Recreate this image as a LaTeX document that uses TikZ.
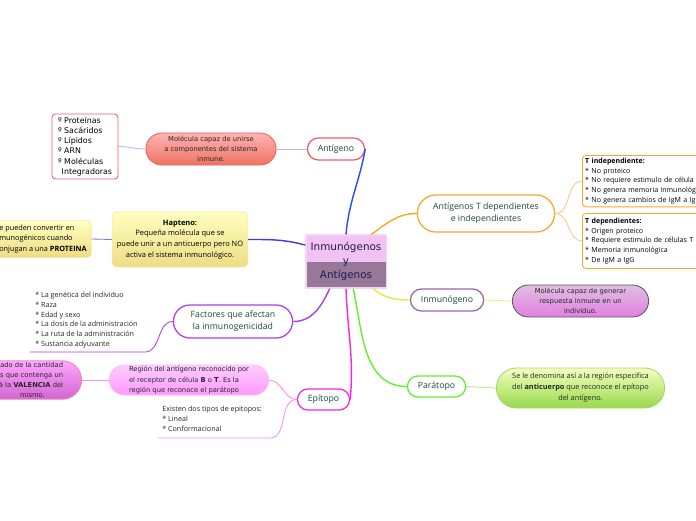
\documentclass[tikz,border=0pt]{standalone}
\usepackage{fontspec}
\setmainfont{DejaVu Sans}
\newfontfamily\opensans{Open Sans}
\usetikzlibrary{positioning,shapes.misc}

\definecolor{verdeosc}{HTML}{1E4A3C}
\definecolor{azulosc}{HTML}{1C1C52}
\definecolor{rosacentro}{HTML}{F2C2F2}
\definecolor{malva}{HTML}{987898}
\definecolor{rojoborde}{HTML}{EE6060}
\definecolor{azulrama}{HTML}{2848FF}
\definecolor{azulclaro}{HTML}{A8BCF4}
\definecolor{violetarama}{HTML}{5030E8}
\definecolor{moradorama}{HTML}{A840F0}
\definecolor{magentarama}{HTML}{F428E4}
\definecolor{rosaclaro}{HTML}{F690EC}
\definecolor{naranja}{HTML}{F8A828}
\definecolor{naranjaclaro}{HTML}{FAC880}
\definecolor{amarilloverde}{HTML}{D8F040}
\definecolor{verderama}{HTML}{60F030}
\definecolor{verdeclaro}{HTML}{A8F088}
\definecolor{violeta}{HTML}{9468AC}

\tikzset{
  rama/.style={rounded rectangle, draw, fill=white, line width=0.9pt, text=verdeosc,
    font=\opensans\fontsize{6.2}{8.5}\selectfont, align=center, inner sep=1pt},
  nota/.style={rounded rectangle, draw, line width=0.6pt, text=black!85,
    font=\fontsize{4.8}{7.2}\selectfont, align=center, inner sep=1pt},
  caja/.style={rectangle, rounded corners=2.5pt, draw, line width=0.6pt, fill=white,
    inner sep=2pt, align=left},
  listado/.style={font=\opensans\fontsize{5.1}{6.9}\selectfont, text=black!85,
    align=left, inner sep=0pt},
  conector/.style={line width=1pt},
  fino/.style={line width=0.6pt},
}

\begin{document}
\begin{tikzpicture}[x=0.025cm,y=-0.025cm]
\useasboundingbox (0,0) rectangle (696,520);

% nodo central
\node[rectangle, draw=rosacentro!70!white, fill=rosacentro, line width=0.8pt,
  minimum width=1.9cm, minimum height=1.325cm, text=azulosc, align=center,
  font=\fontsize{7.4}{10}\selectfont,
  path picture={\fill[malva] (path picture bounding box.west) rectangle (path picture bounding box.south east);}]
  (centro) at (346,261.5) {Inmunógenos\\y\\Antígenos};

% rama antigeno
\node[rama, draw=rojoborde, minimum width=1.5cm, minimum height=0.55cm] (antigeno) at (336,149) {Antígeno};
\node[nota, draw=rojoborde, top color=red!30!white, bottom color=red!55!brown!70!white,
  minimum width=3.325cm, minimum height=0.8cm] (molecula) at (211,149)
  {Molécula capaz de unirse\\a componentes del sistema\\inmune.};
\node[caja, draw=rojoborde, font=\fontsize{5.6}{7.3}\selectfont, minimum width=1.65cm,
  minimum height=1.625cm] (tipos) at (85,146.5)
  {º Proteínas\\º Sacáridos\\º Lípidos\\º ARN\\º Moléculas\\\phantom{º}Integradoras};

% rama hapteno
\node[rectangle, rounded corners=3pt, draw=yellow!60!brown!40!white, top color=yellow!25!white,
  bottom color=yellow!50!brown!55!white, minimum width=3.325cm, minimum height=1.375cm,
  align=center, font=\opensans\fontsize{5.3}{7.5}\selectfont] (hapteno) at (180,239.5)
  {\textbf{Hapteno:}\\Pequeña molécula que se\\puede unir a un anticuerpo pero NO\\activa el sistema inmunológico.};
\node[rectangle, rounded corners=3pt, draw=yellow!60!brown!40!white, top color=yellow!25!white,
  bottom color=yellow!50!brown!55!white, minimum width=2.3cm, minimum height=0.9cm,
  align=left, font=\opensans\fontsize{5.2}{7.2}\selectfont] (conjuga) at (43,239)
  {e pueden convertir en\\munogénicos cuando\\onjugan a una \textbf{PROTEINA}};

% rama factores
\node[rama, draw=moradorama, minimum width=3.05cm, minimum height=0.825cm] (factores) at (233,321.5)
  {Factores que afectan\\la inmunogenicidad};
\node[listado, anchor=north west] (listaF) at (35,292)
  {{*} La genética del individuo\\{*} Raza\\{*} Edad y sexo\\{*} La dosis de la administración\\{*} La ruta de la administración\\{*} Sustancia adyuvante};
\coordinate (finF) at (145,352);
\coordinate (iniF) at (30,352);

% rama epitopo
\node[rama, draw=magentarama, minimum width=1.375cm, minimum height=0.525cm] (epitopo) at (323.5,399.5) {Epítopo};
\node[nota, draw=rosaclaro!60!white, top color=magenta!20!white, bottom color=magenta!40!white,
  minimum width=4.05cm, minimum height=0.75cm, align=left] (region) at (189,380)
  {Región del antígeno reconocido por\\el receptor de célula \textbf{B} o \textbf{T}. Es la\\región que reconoce el parátopo};
\node[nota, draw=magenta!50!white, top color=magenta!35!white, bottom color=violet!60!magenta!60!white,
  minimum width=2.6cm, minimum height=0.9cm, align=right] (valencia) at (31,380)
  {ado de la cantidad\\s que contenga un\\á la \textbf{VALENCIA} del\\mismo.\hspace*{13pt}};
\node[listado, anchor=north west] (listaE) at (162,406)
  {Existen dos tipos de epitopos:\\{*} Lineal\\{*} Conformacional};
\coordinate (finE) at (270,438);
\coordinate (iniE) at (158,438);

% rama antigenos T
\node[rama, draw=naranja, minimum width=3.5cm, minimum height=0.925cm] (antT) at (486,213.5)
  {Antígenos T dependientes\\e independientes};
\node[caja, draw=naranja, anchor=north west, minimum height=1.25cm, text width=3.4cm,
  font=\opensans\fontsize{5.0}{6.9}\selectfont] (tindep) at (582,155)
  {\textbf{T independiente:}\\{*} No proteico\\{*} No requiere estimulo de célula\\{*} No genera memoria inmunológ\\{*} No genera cambios de IgM a Ig};
\node[caja, draw=naranja, anchor=north west, minimum height=1.375cm, text width=3.4cm,
  font=\opensans\fontsize{5.0}{6.9}\selectfont] (tdep) at (582,213)
  {\textbf{T dependientes:}\\{*} Origen proteico\\{*} Requiere estimulo de células T\\{*} Memoria inmunológica\\{*} De IgM a IgG};

% rama inmunogeno
\node[rama, draw=violeta, minimum width=1.9cm, minimum height=0.55cm] (inmunogeno) at (447,300) {Inmunógeno};
\node[nota, draw=black!65, top color=violet!25!white, bottom color=violet!45!magenta!50!white,
  minimum width=3.475cm, minimum height=0.8cm] (respuesta) at (580.5,301)
  {Molécula capaz de generar\\respuesta inmune en un\\individuo.};

% rama paratopo
\node[rama, draw=verderama, minimum width=1.525cm, minimum height=0.525cm] (paratopo) at (436.5,386.5) {Parátopo};
\node[nota, draw=verdeclaro!80!olive, top color=green!20!yellow!25!white, bottom color=olive!55!green!55!white,
  minimum width=4.275cm, minimum height=1cm, font=\opensans\fontsize{5.2}{7.8}\selectfont] (anticuerpo) at (580.5,388)
  {Se le denomina así a la región especifica\\del \textbf{anticuerpo} que reconoce el epítopo\\del antígeno.};

% conectores
\draw[conector, azulrama] (centro.north) to[out=85,in=-100] (antigeno.east);
\draw[fino, azulclaro] (antigeno.west) -- (molecula.east);
\draw[fino, azulclaro] (molecula.west) to[out=180,in=0] (tipos.east);
\draw[conector, violetarama] (centro.158) to[out=165,in=0] (hapteno.east);
\draw[fino, violetarama!70!white] (hapteno.west) -- (conjuga.east);
\draw[conector, moradorama] (centro.239) to[out=-115,in=0] (factores.east);
\draw[fino, moradorama] (factores.west) to[out=180,in=0] (finF) -- (iniF);
\draw[conector, magentarama] (centro.south) to[out=-88,in=85] (epitopo.east);
\draw[fino, rosaclaro] (epitopo.west) to[out=180,in=0] (region.east);
\draw[fino, rosaclaro] (region.west) -- (valencia.east);
\draw[fino, rosaclaro] (epitopo.west) to[out=180,in=0] (finE) -- (iniE);
\draw[conector, naranja] (centro.47) to[out=35,in=180] (antT.west);
\draw[fino, naranjaclaro] (antT.east) to[out=0,in=180] (tindep.west);
\draw[fino, naranjaclaro] (antT.east) to[out=0,in=180] (tdep.west);
\draw[conector, amarilloverde] (centro.315) to[out=-40,in=180] (inmunogeno.west);
\draw[fino, amarilloverde!70!white] (inmunogeno.east) -- (respuesta.west);
\draw[conector, verderama] (centro.285) to[out=-78,in=180] (paratopo.west);
\draw[fino, verdeclaro] (paratopo.east) -- (anticuerpo.west);
\end{tikzpicture}
\end{document}
